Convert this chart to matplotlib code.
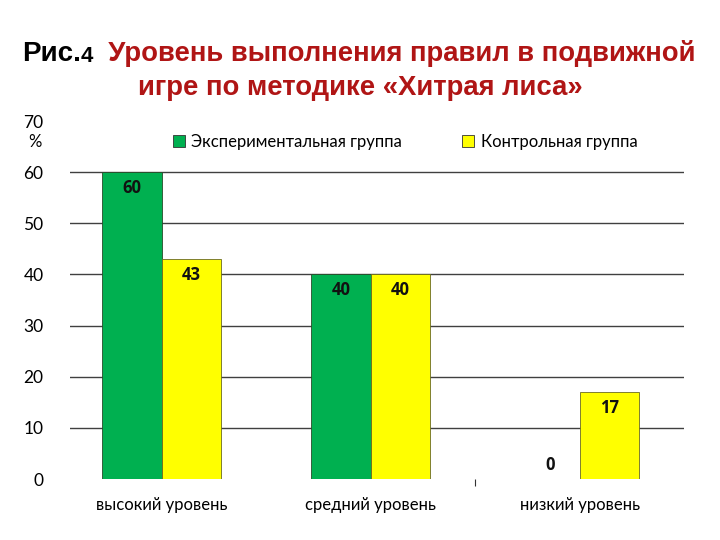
import numpy as np
import matplotlib
matplotlib.use("Agg")
import matplotlib.pyplot as plt

categories = ['высокий уровень', 'средний уровень', 'низкий уровень']
exp_group = [60, 40, 0]
ctrl_group = [43, 40, 17]
series_names = ['Экспериментальная группа', 'Контрольная группа']
yticks = [0, 10, 20, 30, 40, 50, 60, 70]

GREEN = '#00B050'
YELLOW = '#FFFF00'
body_font = ['Lato', 'DejaVu Sans']
title_font = ['Liberation Sans', 'DejaVu Sans']

fig = plt.figure(figsize=(7.2, 5.4), dpi=100)
ax = fig.add_axes([70 / 720, 1 - 479 / 540, (684 - 70) / 720, (479 - 121) / 540])

x = np.arange(len(categories))
w = 0.285
b1 = ax.bar(x - w / 2, exp_group, w, color=GREEN, edgecolor='#2a4a2a', linewidth=0.6,
            label=series_names[0], zorder=3)
b2 = ax.bar(x + w / 2, ctrl_group, w, color=YELLOW, edgecolor='#6a6a20', linewidth=0.6,
            label=series_names[1], zorder=3)

# value labels just inside the top of each bar
for bars in (b1, b2):
    for r in bars:
        v = r.get_height()
        off = -16 if v > 0 else 14
        ax.annotate(f'{v:g}', (r.get_x() + r.get_width() / 2, v), xytext=(0, off),
                    textcoords='offset pixels',
                    ha='center', va='center', fontsize=12, fontweight='bold',
                    family=['Open Sans', 'DejaVu Sans'], color='#111111', zorder=4)

ax.set_ylim(0, 70)
ax.set_xlim(-0.44, 2.50)
ax.set_yticks(yticks)
ax.set_yticklabels([str(t) for t in yticks], family=body_font, fontsize=12.5)
ax.set_xticks(x)
ax.set_xticklabels(categories, family=body_font, fontsize=12)
ax.set_xticks([1.5], minor=True)
ax.tick_params(axis='x', which='major', length=0, pad=13)
ax.tick_params(axis='x', which='minor', length=5, width=0.8, color='#333333')
ax.tick_params(axis='y', length=0, pad=19)
for s in ax.spines.values():
    s.set_visible(False)

ax.grid(axis='y', color='#404040', linewidth=1.0, zorder=0)
gl = ax.yaxis.get_gridlines()
gl[0].set_visible(False)
gl[-1].set_visible(False)

fig.text(35 / 720, 1 - 142 / 540, '%', ha='center', va='center', fontsize=12, family=body_font)

leg = ax.legend(loc='center', bbox_to_anchor=(0.546, (142 - 121) / -358 + 1), ncol=2,
                frameon=False, prop={'family': body_font, 'size': 12},
                handlelength=0.7, handleheight=0.7, handletextpad=0.4, columnspacing=3.6)
for h in leg.legend_handles:
    h.set_edgecolor('#333333')
    h.set_linewidth(0.6)

# title, built from pieces so the colours can differ
t1 = fig.text(22 / 720, 1 - 54 / 540, 'Рис.', ha='left', va='center', fontsize=20,
              fontweight='bold', family=title_font, color='black')
t2 = ax.annotate('4', xy=(1, 0), xycoords=t1, xytext=(0, 0), textcoords='offset pixels',
                 ha='left', va='bottom', fontsize=16, fontweight='bold', family=title_font)
ax.annotate('  Уровень выполнения правил в подвижной', xy=(1, 0), xycoords=t2,
            ha='left', va='bottom', fontsize=19.8, fontweight='bold', family=title_font,
            color='#B01515', annotation_clip=False)
fig.text(360 / 720, 1 - 88 / 540, 'игре по методике «Хитрая лиса»', ha='center', va='center',
         fontsize=19.8, fontweight='bold', family=title_font, color='#B01515')

fig.savefig('out.png', dpi=100)
